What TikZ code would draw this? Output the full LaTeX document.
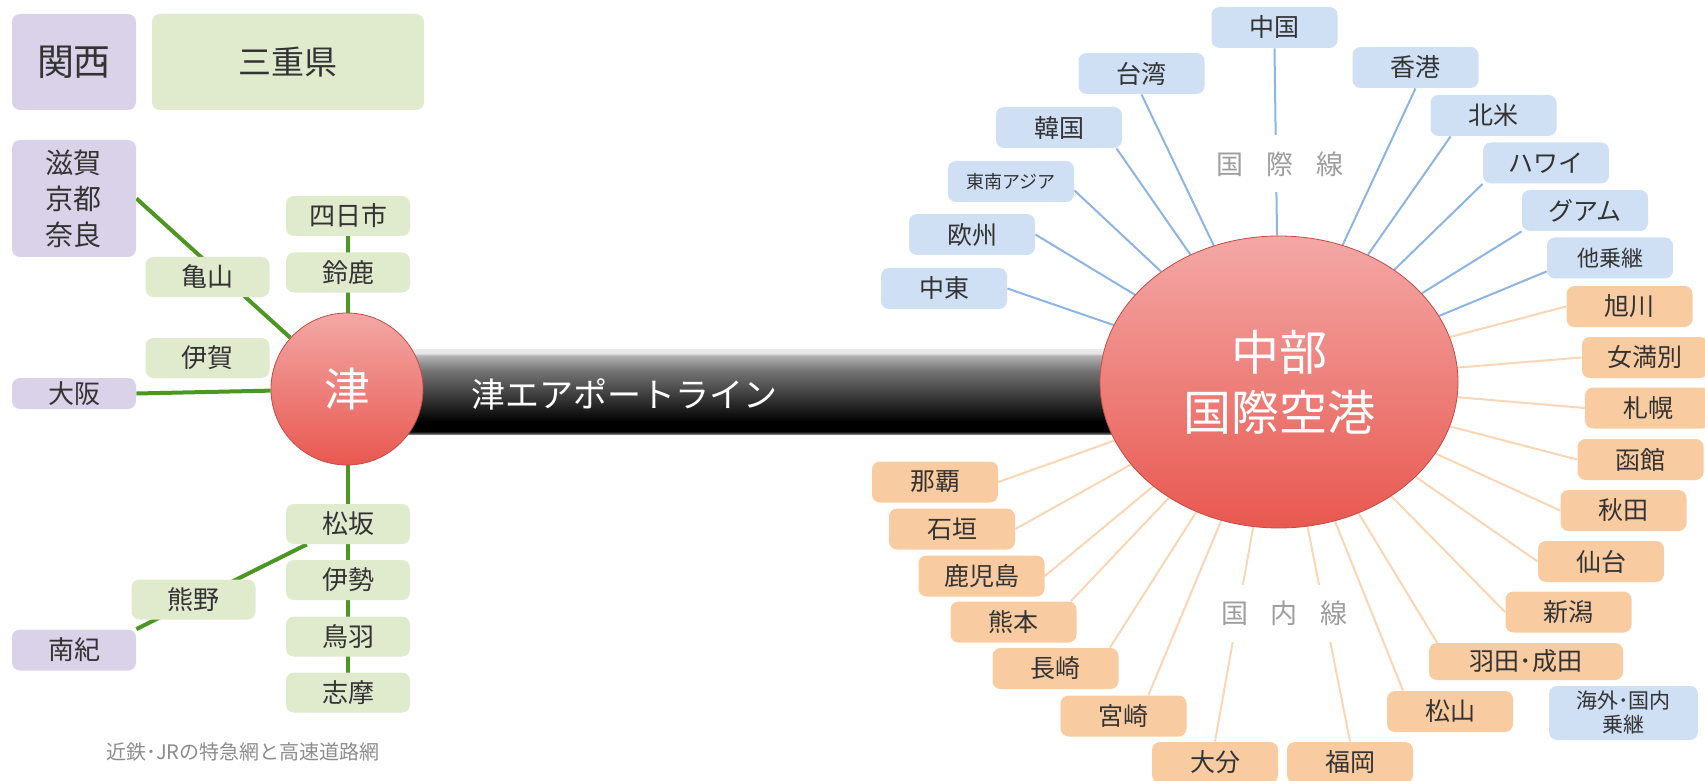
\documentclass[tikz,border=0pt]{standalone}
\usepackage{fontspec}
\setmainfont{Noto Sans CJK JP}
\usetikzlibrary{shapes.geometric}
\pgfdeclarelayer{bg}
\pgfsetlayers{bg,main}

\definecolor{kansai}{RGB}{217,210,232}
\definecolor{mie}{RGB}{224,234,205}
\definecolor{intl}{RGB}{207,224,245}
\definecolor{dom}{RGB}{249,203,160}
\definecolor{intlline}{RGB}{141,180,226}
\definecolor{domline}{RGB}{251,214,180}
\definecolor{rail}{RGB}{76,150,36}
\definecolor{hubtop}{RGB}{243,168,166}
\definecolor{hubbot}{RGB}{232,88,80}
\definecolor{ink}{RGB}{51,51,51}

% the air line tube, bottom to top
\pgfdeclareverticalshading{tube}{100bp}{color(0bp)=(black!55); color(25bp)=(black!55);
  color(26.5bp)=(black); color(32bp)=(black); color(42bp)=(black!85); color(62bp)=(black!55);
  color(71bp)=(black!30); color(72.5bp)=(black!10); color(75bp)=(black!8); color(100bp)=(black!8)}

\tikzset{
  box/.style={rectangle, rounded corners=4pt, inner sep=0pt, minimum width=63pt,
    minimum height=20.5pt, text=ink, font=\fontsize{12.5pt}{15pt}\selectfont},
  kbox/.style={box, fill=kansai, minimum width=62pt, font=\fontsize{13pt}{15pt}\selectfont},
  mbox/.style={box, fill=mie, minimum width=62pt, minimum height=20pt, font=\fontsize{13pt}{15pt}\selectfont},
  ibox/.style={box, fill=intl},
  dbox/.style={box, fill=dom},
  hub/.style={text=white, top color=hubtop, bottom color=hubbot, draw=hubbot!85!black,
    line width=0.4pt, inner sep=0pt},
  railway/.style={rail, line width=2pt},
  iline/.style={intlline, line width=1pt},
  dline/.style={domline, line width=1pt},
  grouplabel/.style={fill=white, text=black!38, inner xsep=5pt, inner ysep=0pt,
    minimum height=28.5pt, font=\fontsize{13.5pt}{15pt}\selectfont},
}

\begin{document}
\begin{tikzpicture}[x=0.5pt, y=-0.5pt]
    \useasboundingbox (0,0) rectangle (1705,781);

    % Kansai and Mie
    \node[kbox, minimum height=48pt, font=\fontsize{18.5pt}{20pt}\selectfont] (kansai) at (74,62) {関西};
    \node[mbox, minimum width=136pt, minimum height=48pt, font=\fontsize{16.5pt}{20pt}\selectfont] (mie) at (288,62) {三重県};
    \node[kbox, minimum height=58.5pt, align=center, font=\fontsize{14pt}{18pt}\selectfont] (shiga) at (74,198.5) {滋賀\\京都\\奈良};
    \node[kbox, minimum height=15.5pt] (osaka) at (74,393.5) {大阪};
    \node[kbox] (nanki) at (74,650) {南紀};

    \foreach \n/\x/\y/\t in {yokkaichi/348/216/四日市, suzuka/348/272.5/鈴鹿, kameyama/207.5/277/亀山,
        iga/207.5/358/伊賀, matsusaka/348/524/松坂, ise/348/580/伊勢, toba/348/636.5/鳥羽,
        shima/348/692.5/志摩, kumano/193.5/599.5/熊野}
        \node[mbox] (\n) at (\x,\y) {\t};

    \node[hub, circle, minimum size=76pt, font=\fontsize{23pt}{25pt}\selectfont] (tsu) at (347,389) {津};
    \node[text=black!45, font=\fontsize{10pt}{11pt}\selectfont] (caption) at (243,752) {近鉄･JRの特急網と高速道路網};

    % Chubu airport
    \node[hub, ellipse, minimum width=179pt, minimum height=146pt, align=center,
        font=\fontsize{24pt}{30pt}\selectfont] (airport) at (1279,382) {中部\\国際空港};
    \node[text=white, font=\fontsize{17pt}{20pt}\selectfont] (airline) at (624,394) {津エアポートライン};

    % international
    \foreach \n/\x/\y/\t in {china/1274.5/27.5/中国, taiwan/1141.5/73.5/台湾, korea/1059/127.5/韓国,
        europe/972/234.5/欧州, mideast/944/288.5/中東, hongkong/1415.5/67.5/香港,
        namerica/1493.5/115.5/北米, hawaii/1546/163/ハワイ, guam/1585/210.5/グアム}
        \node[ibox] (\n) at (\x,\y) {\t};
    \node[ibox, font=\fontsize{9pt}{11pt}\selectfont] (sasia) at (1011,181.5) {東南アジア};
    \node[ibox, font=\fontsize{11pt}{13pt}\selectfont] (transfer) at (1610,258) {他乗継};
    \node[ibox, minimum width=74.5pt, minimum height=27pt, align=center,
        font=\fontsize{10.5pt}{12pt}\selectfont] (norikae) at (1623.5,713) {海外･国内\\乗継};

    % domestic
    \foreach \n/\x/\y/\t in {asahikawa/1629.5/306.5/旭川, memanbetsu/1645/357.5/女満別, sapporo/1648/408/札幌,
        hakodate/1640.5/459.5/函館, akita/1623.5/510.5/秋田, sendai/1601/561.5/仙台,
        niigata/1568.5/612/新潟, matsuyama/1450/711.5/松山, fukuoka/1350/762.5/福岡,
        oita/1215/762.5/大分, miyazaki/1123.5/716/宮崎, nagasaki/1055.5/668.5/長崎,
        kumamoto/1013.5/622/熊本, kagoshima/981.5/576/鹿児島, ishigaki/952/529/石垣, naha/935/482/那覇}
        \node[dbox] (\n) at (\x,\y) {\t};
    \node[dbox, minimum width=97pt, minimum height=18.5pt, font=\fontsize{12.5pt}{14pt}\selectfont] (haneda) at (1526,661.5) {羽田･成田};

    \node[grouplabel] (intlname) at (1280,164) {国\hspace{11.5pt}際\hspace{11.5pt}線\hspace{10pt}};
    \node[grouplabel] (domname) at (1284.5,613.5) {国\hspace{11.5pt}内\hspace{11.5pt}線\hspace{10pt}};

    \begin{pgfonlayer}{bg}
        \shade[shading=tube] (tsu.center) ++(0,-40) rectangle (airport.center |- 0,434);

        \draw[railway] (shiga.east) -- (tsu);
        \draw[railway] (osaka.east) -- (tsu);
        \draw[railway] (yokkaichi.center) -- (shima.center);
        \draw[railway] (nanki.north east) -- (matsusaka);

        \foreach \a in {china.south, taiwan.south, korea.-20, sasia.-8, europe.east, mideast.east,
            hongkong.south, namerica.-154, hawaii.south west, guam.south west, transfer.-168}
            \draw[iline] (\a) -- (airport);
        \foreach \a in {asahikawa.west, memanbetsu.west, sapporo.west, hakodate.west, akita.west,
            sendai.west, niigata.west, haneda.168, matsuyama.156, fukuoka.north, oita.north,
            miyazaki.40, nagasaki.21, kumamoto.20, kagoshima.east, ishigaki.east, naha.east}
            \draw[dline] (\a) -- (airport);
    \end{pgfonlayer}
\end{tikzpicture}
\end{document}
